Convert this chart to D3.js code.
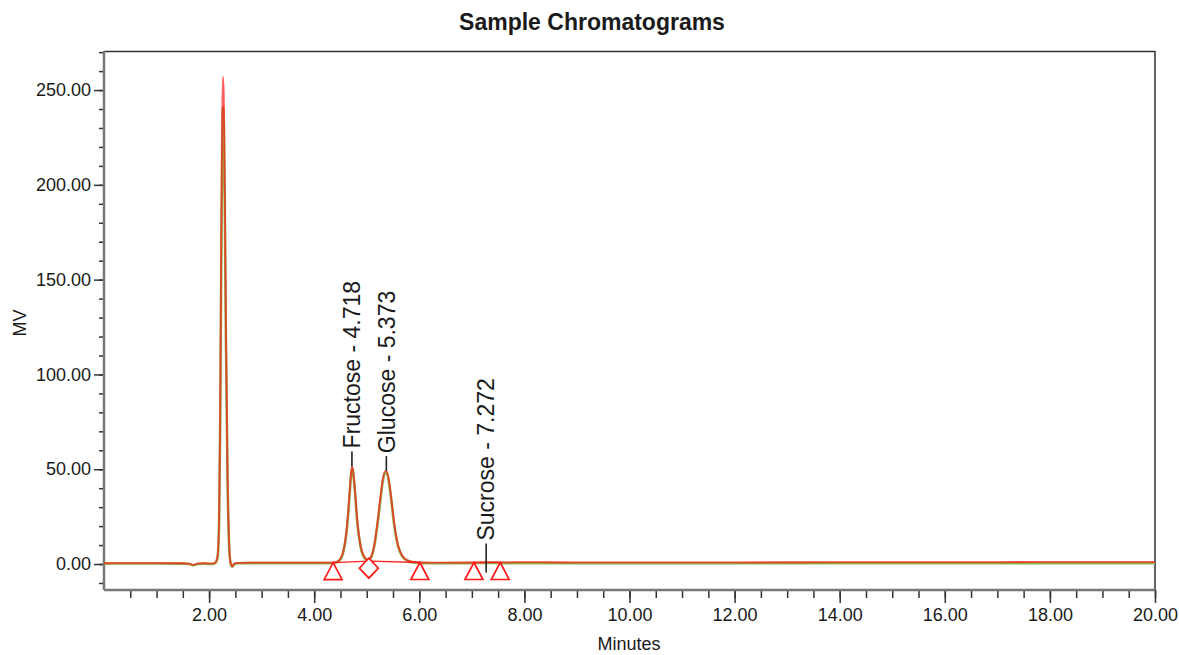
<!DOCTYPE html>
<html>
<head>
<meta charset="utf-8">
<script src="https://cdn.jsdelivr.net/npm/d3@7"></script>
<style>
  body { margin: 0; background: #fff; }
  text { font-family: "Liberation Sans", Arial, sans-serif; fill: #1a1a1a; }
</style>
</head>
<body>
<div id="chart"></div>
<script>
// Datos del cromatograma
// ======================
var times = [0, 0.5, 1.0, 1.5, 1.62, 1.7, 1.78, 1.9, 2.05, 2.12, 2.16, 2.19, 2.21, 2.23, 2.25, 2.265, 2.28, 2.3, 2.32, 2.35, 2.38, 2.41, 2.44, 2.48, 2.55, 2.8, 3.2, 3.6, 4.0, 4.3, 4.42, 4.5, 4.56, 4.62, 4.67, 4.7, 4.72, 4.74, 4.77, 4.82, 4.88, 4.95, 5.02, 5.08, 5.14, 5.2, 5.26, 5.31, 5.35, 5.38, 5.42, 5.47, 5.53, 5.6, 5.68, 5.78, 5.9, 6.05, 6.4, 7.0, 7.27, 7.6, 8.0, 9, 10, 12, 14, 16, 18, 20];
var redValues = [0.4, 0.5, 0.5, 0.4, 0.2, -0.5, 0.2, 0.4, 0.2, 0.8, 4, 24, 76, 165, 238, 257, 247, 195, 126, 50, 12, 0.5, -1.2, 0.2, 0.6, 0.7, 0.7, 0.7, 0.7, 0.7, 1.0, 2.8, 7.5, 19, 36, 47.5, 51.5, 49.5, 41, 23, 10, 4, 2.3, 3.8, 9.5, 21, 35, 45.5, 49, 49, 44.5, 34, 20, 9.5, 4.2, 1.9, 1.1, 0.8, 0.7, 0.8, 1.0, 0.9, 1.0, 0.9, 0.9, 0.9, 1.0, 1.0, 1.1, 1.1];
var greenValues = [0.2, 0.3, 0.3, 0.2, 0.0, -0.7, 0.0, 0.2, 0.0, 0.6, 3.5, 21, 70, 152, 224, 241, 233, 184, 118, 46, 10, 0.2, -1.4, 0.0, 0.4, 0.5, 0.5, 0.5, 0.5, 0.5, 0.8, 2.5, 7, 18, 35, 46.5, 50.5, 48.5, 40, 22, 9.5, 3.6, 2.0, 3.4, 9, 20, 34, 44.5, 48, 48, 43.5, 33, 19, 9, 3.9, 1.6, 0.8, 0.5, 0.4, 0.5, 0.6, 0.5, 0.5, 0.4, 0.4, 0.4, 0.5, 0.5, 0.5, 0.5];

// Marcas de integracion
var markerTimes = [4.36, 5.04, 6.01, 7.04, 7.54];
var markerBase = [0.7, 1.5, 0.8, 0.8, 0.8];
var markerShapes = ["triangle", "diamond", "triangle", "triangle", "triangle"];

// Picos etiquetados
var peakNames = ["Fructose - 4.718", "Glucose - 5.373", "Sucrose - 7.272"];
var peakTimes = [4.718, 5.373, 7.272];
var peakLeaderFrom = [51.5, 49, -4.5];

var yTicks = [0, 50, 100, 150, 200, 250];
var xTicks = [2, 4, 6, 8, 10, 12, 14, 16, 18, 20];

// Dimensiones
// ===========
var W = 1179, H = 655;
var margin = { top: 51, right: 24, bottom: 65, left: 104 },
  width = W - margin.left - margin.right,
  height = H - margin.top - margin.bottom;

var svg = d3.select("#chart")
  .append("svg")
  .attr("width", W)
  .attr("height", H);

var g = svg.append("g")
  .attr("transform", "translate(" + margin.left + "," + margin.top + ")");

var x = d3.scaleLinear().domain([0, 20]).range([0, width]);
var y = d3.scaleLinear().domain([-13.7, 270.6]).range([height, 0]);

// Titulo
svg.append("text")
  .attr("x", 592)
  .attr("y", 30)
  .attr("text-anchor", "middle")
  .style("font-size", "23px")
  .style("font-weight", "bold")
  .text("Sample Chromatograms");

// Marco superior y derecho
g.append("path")
  .attr("d", "M0,0.5H" + width + "V" + height)
  .attr("fill", "none")
  .attr("stroke", "#333")
  .attr("stroke-width", 1.5);

// Eje Y
// =====
var yAxis = g.append("g")
  .call(d3.axisLeft(y).tickValues(d3.range(-10, 271, 10)).tickSize(5).tickFormat(""));
yAxis.select(".domain").remove();
yAxis.selectAll("line").attr("stroke", "#333").attr("stroke-width", 1.5);

var yAxisMajor = g.append("g")
  .call(d3.axisLeft(y).tickValues(yTicks).tickSize(10).tickPadding(3).tickFormat(d3.format(".2f")));
yAxisMajor.select(".domain").remove();
yAxisMajor.selectAll("line").attr("stroke", "#333").attr("stroke-width", 1.5);
yAxisMajor.selectAll("text").style("font-size", "18px").style("font-family", "Liberation Sans, Arial, sans-serif").attr("fill", "#1a1a1a");

g.append("line")
  .attr("x1", 0).attr("x2", 0).attr("y1", 0).attr("y2", height)
  .attr("stroke", "#777").attr("stroke-width", 2.5);

svg.append("text")
  .attr("text-anchor", "middle")
  .attr("transform", "translate(26," + 323 + ") rotate(-90)")
  .style("font-size", "18px")
  .text("MV");

// Eje X
// =====
var xAxis = g.append("g")
  .attr("transform", "translate(0," + height + ")")
  .call(d3.axisBottom(x).tickValues(d3.range(0.5, 20.01, 0.5)).tickSize(8).tickFormat(""));
xAxis.select(".domain").remove();
xAxis.selectAll("line").attr("stroke", "#333").attr("stroke-width", 1.5);

var xAxisMajor = g.append("g")
  .attr("transform", "translate(0," + height + ")")
  .call(d3.axisBottom(x).tickValues(xTicks).tickSize(13).tickPadding(5).tickFormat(d3.format(".2f")));
xAxisMajor.select(".domain").remove();
xAxisMajor.selectAll("line").attr("stroke", "#333").attr("stroke-width", 1.5);
xAxisMajor.selectAll("text").style("font-size", "18px").style("font-family", "Liberation Sans, Arial, sans-serif").attr("fill", "#1a1a1a");

g.append("line")
  .attr("x1", 0).attr("x2", width).attr("y1", height).attr("y2", height)
  .attr("stroke", "#777").attr("stroke-width", 2.5);

svg.append("text")
  .attr("text-anchor", "middle")
  .attr("x", 629)
  .attr("y", 650)
  .style("font-size", "18px")
  .text("Minutes");

// Trazas
// ======
var line = d3.line()
  .x(function(d) { return x(d[0]); })
  .y(function(d) { return y(d[1]); })
  .curve(d3.curveMonotoneX);

g.append("path")
  .datum(d3.zip(times, greenValues))
  .attr("fill", "none")
  .attr("stroke", "#8fb04a")
  .attr("stroke-width", 2.6)
  .attr("d", line);

g.append("path")
  .datum(d3.zip(times, redValues))
  .attr("fill", "none")
  .attr("stroke", "#ff1a1a")
  .attr("stroke-opacity", 0.7)
  .attr("stroke-width", 1.8)
  .attr("d", line);

// Lineas base de integracion
g.append("path")
  .datum(d3.zip(markerTimes.slice(0, 3), markerBase.slice(0, 3)))
  .attr("fill", "none").attr("stroke", "#ff2020").attr("stroke-width", 1.3)
  .attr("d", d3.line().x(function(d) { return x(d[0]); }).y(function(d) { return y(d[1]); }));
g.append("path")
  .datum(d3.zip(markerTimes.slice(3), markerBase.slice(3)))
  .attr("fill", "none").attr("stroke", "#ff2020").attr("stroke-width", 1.3)
  .attr("d", d3.line().x(function(d) { return x(d[0]); }).y(function(d) { return y(d[1]); }));

// Marcadores
g.selectAll(".marker")
  .data(d3.zip(markerTimes, markerBase, markerShapes))
  .enter().append("path")
  .attr("class", "marker")
  .attr("transform", function(d) { return "translate(" + x(d[0]) + "," + y(d[1]) + ")"; })
  .attr("d", function(d) {
    if (d[2] === "diamond") return "M0,-3L9.5,7L0,17L-9.5,7Z";
    return "M0,0L9,17L-9,17Z";
  })
  .attr("fill", "#fff")
  .attr("stroke", "#ff1a1a")
  .attr("stroke-width", 1.7);

// Etiquetas de picos
var peaks = g.selectAll(".peak")
  .data(d3.zip(peakNames, peakTimes, peakLeaderFrom))
  .enter().append("g")
  .attr("class", "peak")
  .attr("transform", function(d) { return "translate(" + x(d[1]) + "," + y(d[2]) + ")"; });

peaks.append("line")
  .attr("x1", 0).attr("x2", 0)
  .attr("y1", 0).attr("y2", function(d, i) { return i === 2 ? -29 : -15; })
  .attr("stroke", "#222")
  .attr("stroke-width", 1.6);

peaks.append("text")
  .attr("transform", function(d, i) { return "translate(0," + (i === 2 ? -32 : -18) + ") rotate(-90)"; })
  .attr("dy", "0.36em")
  .style("font-size", "23px")
  .text(function(d) { return d[0]; });
</script>
</body>
</html>
